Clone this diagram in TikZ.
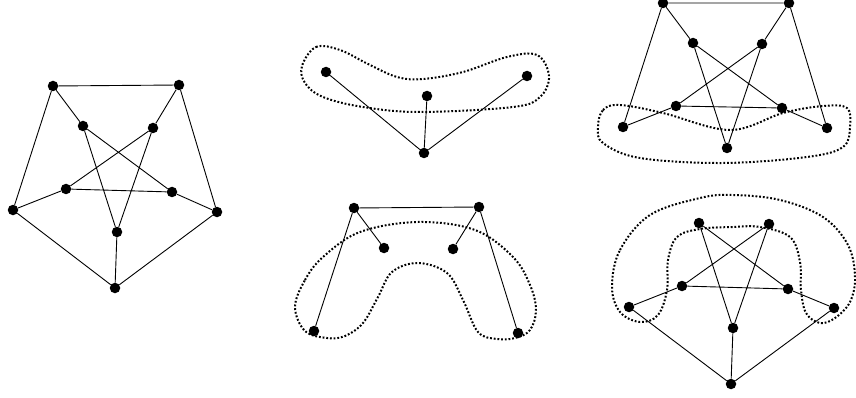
\documentclass[tikz,border=0pt]{standalone}
\usetikzlibrary{calc}
\tikzstyle{vertex} = [circle, fill=black, inner sep=0pt, minimum size=10.5pt]
\tikzstyle{edge} = [line width=0.9pt]
\tikzstyle{region} = [line width=2pt, dash pattern=on 1.8pt off 1.9pt]
\begin{document}
\begin{tikzpicture}[x=1pt, y=-1pt]
	\useasboundingbox (0,0) rectangle (856,398);
	% full graph
	\node (FullOTL) [vertex] at (53,86) {};
	\node (FullOTR) [vertex] at (179,85) {};
	\node (FullOL) [vertex] at (13,210) {};
	\node (FullOR) [vertex] at (217,212) {};
	\node (FullOB) [vertex] at (115,288) {};
	\node (FullITL) [vertex] at (83,126) {};
	\node (FullITR) [vertex] at (153,128) {};
	\node (FullIL) [vertex] at (66,189) {};
	\node (FullIR) [vertex] at (172,192) {};
	\node (FullIB) [vertex] at (117,232) {};
	\draw [edge] (FullOTL) -- (FullOTR) -- (FullOR) -- (FullOB) -- (FullOL) -- (FullOTL);
	\draw [edge] (FullOTL) -- (FullITL);
	\draw [edge] (FullOTR) -- (FullITR);
	\draw [edge] (FullOL) -- (FullIL);
	\draw [edge] (FullOR) -- (FullIR);
	\draw [edge] (FullOB) -- (FullIB);
	\draw [edge] (FullITL) -- (FullIR) -- (FullIL) -- (FullITR) -- (FullIB) -- (FullITL);
	% star part
	\node (StarL) [vertex] at (326,72) {};
	\node (StarM) [vertex] at (427,96) {};
	\node (StarR) [vertex] at (527,76) {};
	\node (StarB) [vertex] at (424,153) {};
	\draw [edge] (StarB) -- (StarL);
	\draw [edge] (StarB) -- (StarM);
	\draw [edge] (StarB) -- (StarR);
	\draw [region] plot [smooth cycle, tension=0.6] coordinates {(302,66) (316,47) (340,50) (368,64) (397,77) (423,79) (463,72) (507,57) (537,55) (549,76) (540,97) (513,107) (420,112) (363,107) (323,97) (305,83)};
	% arch part
	\node (ArchTL) [vertex] at (354,208) {};
	\node (ArchTR) [vertex] at (479,207) {};
	\node (ArchIL) [vertex] at (384,248) {};
	\node (ArchIR) [vertex] at (453,249) {};
	\node (ArchBL) [vertex] at (314,331) {};
	\node (ArchBR) [vertex] at (518,333) {};
	\draw [edge] (ArchTL) -- (ArchTR);
	\draw [edge] (ArchTL) -- (ArchIL);
	\draw [edge] (ArchTL) -- (ArchBL);
	\draw [edge] (ArchTR) -- (ArchIR);
	\draw [edge] (ArchTR) -- (ArchBR);
	\draw [region] plot [smooth cycle, tension=0.6] coordinates {(295,307) (305,280) (323,257) (360,232) (418,222) (475,230) (513,257) (530,285) (536,310) (530,330) (515,338) (497,339) (478,332) (463,300) (447,273) (418,263) (392,272) (378,297) (363,323) (345,336) (327,338) (305,331)};
	% upper part
	\node (UpOTL) [vertex] at (663,3) {};
	\node (UpOTR) [vertex] at (789,3) {};
	\node (UpOL) [vertex] at (623,127) {};
	\node (UpOR) [vertex] at (827,128) {};
	\node (UpITL) [vertex] at (693,43) {};
	\node (UpITR) [vertex] at (762,44) {};
	\node (UpIL) [vertex] at (676,106) {};
	\node (UpIR) [vertex] at (782,108) {};
	\node (UpIB) [vertex] at (727,148) {};
	\draw [edge] (UpOL) -- (UpOTL) -- (UpOTR) -- (UpOR);
	\draw [edge] (UpOTL) -- (UpITL);
	\draw [edge] (UpOTR) -- (UpITR);
	\draw [edge] (UpOL) -- (UpIL);
	\draw [edge] (UpOR) -- (UpIR);
	\draw [edge] (UpITL) -- (UpIR) -- (UpIL) -- (UpITR) -- (UpIB) -- (UpITL);
	\draw [region] plot [smooth cycle, tension=0.6] coordinates {(598,127) (603,110) (620,105) (663,113) (730,130) (783,113) (823,106) (847,108) (850,127) (843,147) (807,157) (723,163) (640,158) (603,143)};
	% lower part
	\node (LowOL) [vertex] at (629,307) {};
	\node (LowOR) [vertex] at (834,308) {};
	\node (LowOB) [vertex] at (731,384) {};
	\node (LowITL) [vertex] at (699,223) {};
	\node (LowITR) [vertex] at (769,224) {};
	\node (LowIL) [vertex] at (682,286) {};
	\node (LowIR) [vertex] at (788,289) {};
	\node (LowIB) [vertex] at (733,328) {};
	\draw [edge] (LowOL) -- (LowOB) -- (LowOR);
	\draw [edge] (LowOB) -- (LowIB);
	\draw [edge] (LowOL) -- (LowIL);
	\draw [edge] (LowOR) -- (LowIR);
	\draw [edge] (LowITL) -- (LowIR) -- (LowIL) -- (LowITR) -- (LowIB) -- (LowITL);
	\draw [region] plot [smooth cycle, tension=0.6] coordinates {(612,287) (620,250) (650,215) (700,198) (733,195) (780,200) (823,217) (848,245) (855,277) (850,302) (835,318) (820,323) (806,313) (801,290) (800,262) (790,237) (760,227) (733,227) (700,229) (677,237) (668,260) (667,290) (658,315) (640,322) (620,312)};
\end{tikzpicture}
\end{document}
